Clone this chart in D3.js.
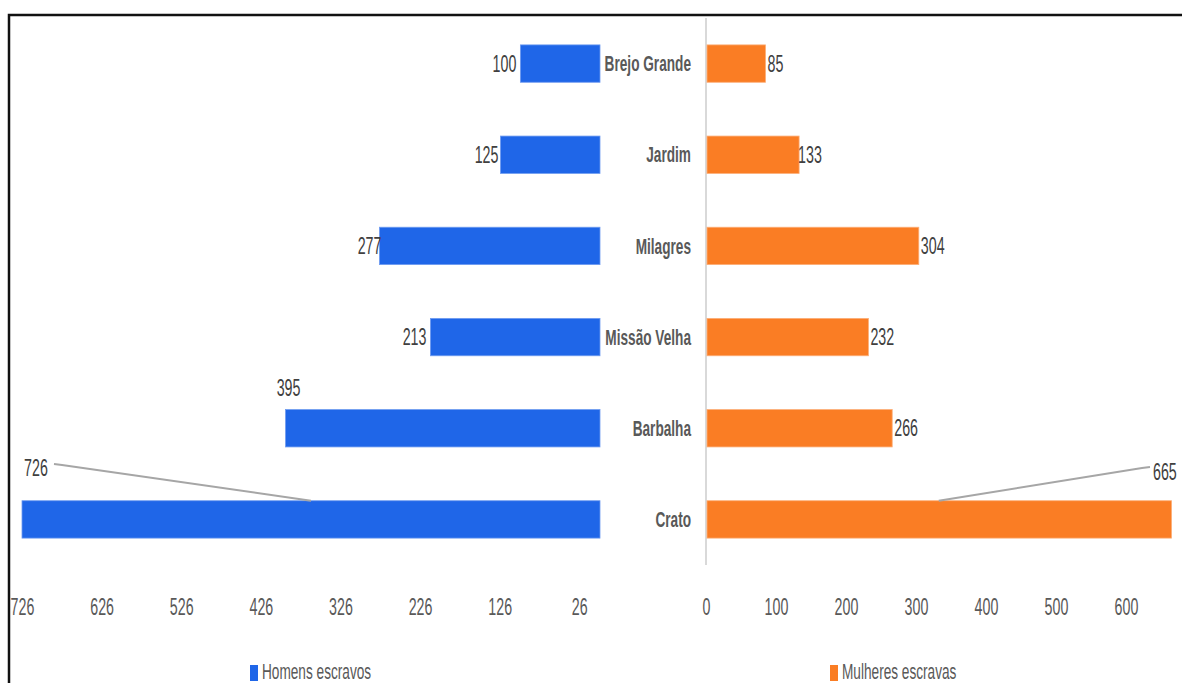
<!DOCTYPE html>
<html>
<head>
<meta charset="utf-8">
<script src="https://d3js.org/d3.v7.min.js"></script>
<style>
  body { margin: 0; background: #fff; }
  svg { display: block; font-family: "Liberation Sans", Arial, sans-serif; }
</style>
</head>
<body>
<script>
// data
const categories = ["Brejo Grande", "Jardim", "Milagres", "Missão Velha", "Barbalha", "Crato"];
const homens = [100, 125, 277, 213, 395, 726];
const mulheres = [85, 133, 304, 232, 266, 665];
const leftTicks = [26, 126, 226, 326, 426, 526, 626, 726];
const rightTicks = [0, 100, 200, 300, 400, 500, 600];
const seriesNames = ["Homens escravos", "Mulheres escravas"];

const W = 1182, H = 683;
const blue = "#1f66e8", orange = "#fa7d24";
const SX = 0.62;   // text in the picture is horizontally squeezed

const svg = d3.select("body").append("svg")
  .attr("width", W).attr("height", H);

// frame (top and left edges only visible)
svg.append("path")
  .attr("d", `M9,${H} V15 H${W}`)
  .attr("fill", "none")
  .attr("stroke", "#111")
  .attr("stroke-width", 2.5);

const y = d3.scaleBand()
  .domain(categories)
  .range([18, 565])
  .paddingInner(0.59)
  .paddingOuter(0.295);

const xL = d3.scaleLinear().domain([0, 726]).range([600, 22]);
const xR = d3.scaleLinear().domain([0, 665]).range([706, 1171.5]);

// squeezed text helper
function txt(g, x, yy, s, anchor, size, color, weight) {
  return g.append("text")
    .attr("transform", `translate(${x},${yy}) scale(${SX},1)`)
    .attr("text-anchor", anchor)
    .attr("dy", "0.35em")
    .attr("font-size", size)
    .attr("font-weight", weight || "normal")
    .attr("fill", color)
    .text(s);
}

// vertical axis line of right panel
svg.append("line")
  .attr("x1", xR(0)).attr("x2", xR(0))
  .attr("y1", 18).attr("y2", 565)
  .attr("stroke", "#d9d9d9").attr("stroke-width", 2);

// bars
svg.append("g").selectAll("rect")
  .data(categories)
  .join("rect")
  .attr("x", (d, i) => xL(homens[i]))
  .attr("y", d => y(d))
  .attr("width", (d, i) => xL(0) - xL(homens[i]))
  .attr("height", y.bandwidth())
  .attr("fill", blue)
  .attr("stroke", "#6f9bf0").attr("stroke-width", 0.8);

svg.append("g").selectAll("rect")
  .data(categories)
  .join("rect")
  .attr("x", xR(0) + 1)
  .attr("y", d => y(d))
  .attr("width", (d, i) => xR(mulheres[i]) - xR(0) - 1)
  .attr("height", y.bandwidth())
  .attr("fill", orange)
  .attr("stroke", "#fcae78").attr("stroke-width", 0.8);

// category labels
const gl = svg.append("g");
categories.forEach((c, i) => {
  txt(gl, 691, y(c) + y.bandwidth() / 2, c, "end", 22, "#595959", "bold");
});

// value labels
const gv = svg.append("g");
const last = categories.length - 1;
categories.forEach((c, i) => {
  const cy = y(c) + y.bandwidth() / 2;
  if (i === last) return;
  if (c === "Barbalha") {
    txt(gv, xL(homens[i]) + 3, y(c) - 22, homens[i], "middle", 23, "#404040");
  } else {
    // offsets of the labels next to the bar ends as seen in the picture
    const dx = c === "Milagres" ? 2 : c === "Jardim" ? -2 : -4;
    txt(gv, xL(homens[i]) + dx, cy, homens[i], "end", 23, "#404040");
  }
  txt(gv, xR(mulheres[i]) + (c === "Jardim" ? -1 : 2), cy, mulheres[i], "start", 23, "#404040");
});

// Crato labels with leader lines
const crTop = y("Crato");
const midL = (xL(0) + xL(homens[last])) / 2;
const midR = (xR(0) + xR(mulheres[last])) / 2;
svg.append("path")
  .attr("d", `M${midL},${crTop} L62,465 L54,464`)
  .attr("fill", "none").attr("stroke", "#a6a6a6").attr("stroke-width", 2);
txt(gv, 36, 468, homens[last], "middle", 23, "#404040");
svg.append("path")
  .attr("d", `M${midR},${crTop} L1142,468 L1150,467`)
  .attr("fill", "none").attr("stroke", "#a6a6a6").attr("stroke-width", 2);
txt(gv, 1153, 472, mulheres[last], "start", 23, "#404040");

// axes
function styleAxis(g) {
  g.select(".domain").remove();
  g.selectAll("line").remove();
  g.selectAll("text")
    .attr("y", 0).attr("dy", "0.35em")
    .attr("transform", `scale(${SX},1)`)
    .attr("font-size", 23)
    .attr("font-family", "Liberation Sans, Arial, sans-serif")
    .attr("fill", "#595959");
}
svg.append("g")
  .attr("transform", "translate(0,607)")
  .call(d3.axisBottom(xL).tickValues(leftTicks).tickSize(0).tickFormat(d3.format("d")))
  .call(styleAxis);
svg.append("g")
  .attr("transform", "translate(0,607)")
  .call(d3.axisBottom(xR).tickValues(rightTicks).tickSize(0).tickFormat(d3.format("d")))
  .call(styleAxis);

// legend
const legend = [
  { name: seriesNames[0], color: blue, x: 250 },
  { name: seriesNames[1], color: orange, x: 830 }
];
legend.forEach(l => {
  svg.append("rect")
    .attr("x", l.x).attr("y", 665).attr("width", 8).attr("height", 16)
    .attr("fill", l.color);
  txt(svg, l.x + 12, 671, l.name, "start", 22, "#595959");
});
</script>
</body>
</html>
